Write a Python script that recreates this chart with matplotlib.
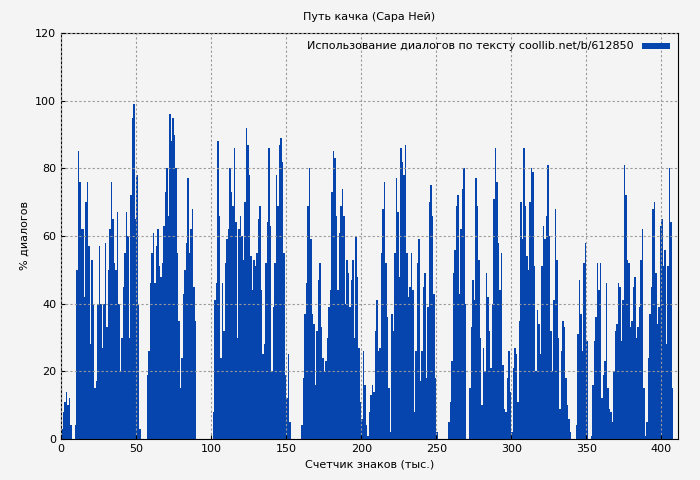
import matplotlib
matplotlib.use("Agg")
import matplotlib.pyplot as plt
import numpy as np

# % of dialogue per 1k-character slice, segment by segment
seg_a = [3, 8, 11, 14, 10, 12, 4, 0, 0, 4]
seg_b = [50, 85, 76, 62, 62, 42, 70, 76, 57, 28, 53, 40, 15, 17, 40, 57, 40, 27, 40, 58,
         33, 50, 62, 76, 65, 52, 50, 67, 40, 20, 30, 45, 55, 67, 60, 30, 72, 95, 99, 65,
         78, 40, 3]
seg_c = [0, 0, 0, 0]
seg_d = [19, 26, 46, 55, 61, 46, 57, 62, 51, 48, 52, 63, 73, 80, 66, 96, 88, 95, 90, 80,
         55, 35, 15, 24, 43, 50, 58, 77, 55, 62, 68, 45, 35]
seg_e = [0] * 11
seg_f1 = [8, 41, 46, 88]
seg_f = [66, 24, 46, 32, 52, 59, 62, 80, 73, 69, 86, 64, 30, 62, 66, 60, 53, 70, 92, 87,
         78, 54, 44, 53, 51, 55, 65, 69, 44, 25, 28, 52, 64, 86, 63,
         20, 39, 52, 78, 69, 87, 89, 82, 55, 19, 12, 25, 5]
seg_g = [0] * 7
seg_h = [4, 18, 37, 46, 69, 80, 59, 37, 34, 16, 32, 47, 52, 33, 24, 20, 23, 30, 39, 44,
         73, 85, 83, 66, 44, 61, 69, 74, 66, 40, 53, 49, 39, 47, 53, 30, 60, 48, 27, 11]
seg_i = [6, 26, 16, 4, 1, 8]
seg_j = [13, 16, 14, 32, 41, 26, 27, 55, 68, 76, 52, 36, 15, 2, 37, 32, 55, 77, 67, 48,
         86, 82, 78, 87, 55, 42, 45, 55, 44, 8, 26, 52, 59, 17, 26, 45, 49, 18, 39, 70,
         75, 66, 43, 18, 2]
seg_k = [0] * 7
seg_l = [5, 11, 23, 49, 56, 69, 72, 43, 62, 74, 80, 40]
seg_m = [0, 0]
seg_n = [15, 33, 47, 41, 77, 69, 53, 30, 10, 27, 20, 49, 42, 32, 21, 40, 71, 86, 76, 58,
         44, 55, 22, 9, 8, 18, 26, 14, 2, 21, 27, 25, 11, 35, 70, 59, 86, 69, 54, 50]
seg_o = [70, 80, 79, 51, 20, 38, 34, 25, 51, 63, 59, 66, 81, 60, 32, 20, 41, 68, 53, 30,
         9, 26, 35, 33, 18, 10, 6, 2]
seg_p = [0, 0, 0]
seg_q = [4, 31, 47, 37, 26, 52, 58, 29]
seg_r = [0, 0]
seg_s = [1, 16, 29, 36, 52, 44, 52, 12, 19, 23, 46, 15, 9, 8, 5, 20, 32, 34, 46, 45,
         29, 41, 81, 72, 53, 52, 33, 35, 45, 48, 30, 33, 39, 53, 62, 15, 1, 5, 24, 37,
         45, 68, 70, 49, 34, 39, 63, 65, 51, 56, 28, 51, 80, 64, 15]

values = np.array(seg_a + seg_b + seg_c + seg_d + seg_e + seg_f1 + seg_f + seg_g + seg_h
                  + seg_i + seg_j + seg_k + seg_l + seg_m + seg_n + seg_o + seg_p + seg_q
                  + seg_r + seg_s, dtype=float)
x = np.arange(len(values))

bg = "#f4f4f4"
blue = "#0645ad"

fig = plt.figure(figsize=(7, 4.8), dpi=100, facecolor=bg)
ax = fig.add_axes([61 / 700, 41 / 480, 617 / 700, 406 / 480], facecolor=bg)
ax.bar(x, values, width=1.0, align="edge", color=blue, linewidth=0,
       label="Использование диалогов по тексту coollib.net/b/612850")
ax.set_xlim(0, 411)
ax.set_ylim(0, 120)
ax.set_xticks(range(0, 401, 50))
ax.set_yticks(range(0, 121, 20))
ax.grid(True, color="#999999", linestyle=(0, (2, 2)), linewidth=0.8)
ax.set_axisbelow(False)
ax.tick_params(labelsize=8, direction="in", length=3)
ax.set_xlabel("Счетчик знаков (тыс.)", fontsize=8)
ax.set_ylabel("% диалогов", fontsize=8)
fig.text(0.527, 0.965, "Путь качка (Сара Ней)", ha="center", va="center", fontsize=8)
leg = ax.legend(loc="upper right", fontsize=8, frameon=False, markerfirst=False,
                handlelength=2.5, borderaxespad=0.3)
for h in leg.get_patches():
    h.set_height(4)

fig.savefig("out.png", dpi=100, facecolor=bg)
